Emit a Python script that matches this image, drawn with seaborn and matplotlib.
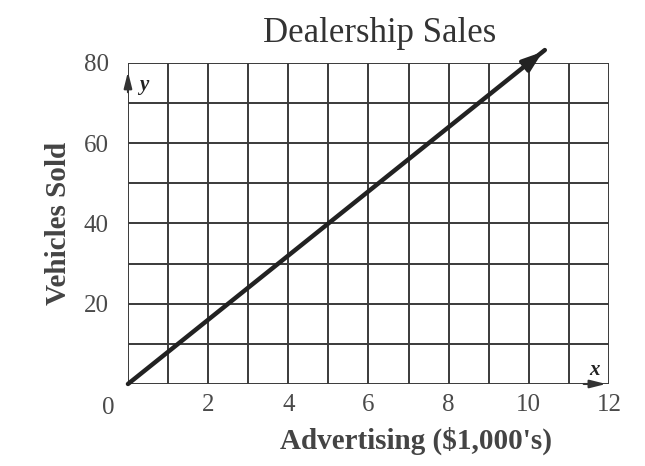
import matplotlib
matplotlib.use("Agg")
import matplotlib.pyplot as plt
import seaborn as sns
import pandas as pd

# line: starts at origin, arrow tip near (10.4, 83.2)
adv = [0, 10.4]
sold = [0, 83.2]
x_ticks = [2, 4, 6, 8, 10, 12]
y_ticks = [20, 40, 60, 80]

sns.set_theme(style="white")
plt.rcParams['font.family'] = ['Liberation Serif', 'DejaVu Serif']

df = pd.DataFrame({"adv": adv, "sold": sold})

fig = plt.figure(figsize=(6.45, 4.66), dpi=100)
ax = fig.add_axes([0.1984, 0.176, 0.7457, 0.689])

grid_col = "#3a3a3a"
for xv in range(0, 13):
    ax.axvline(xv, color=grid_col, lw=1.4, zorder=1)
for yv in range(0, 81, 10):
    ax.axhline(yv, color=grid_col, lw=1.4, zorder=1)

sns.lineplot(data=df, x="adv", y="sold", ax=ax, color="#222222", lw=3.2, zorder=3, clip_on=False)
# arrow head at the end of the line
ax.annotate("", xy=(adv[1], sold[1]), xytext=(adv[1] - 0.5, sold[1] - 4),
            arrowprops=dict(arrowstyle="-|>,head_length=1.0,head_width=0.35", color="#222222", lw=3),
            annotation_clip=False, zorder=4)

# axis arrows
ax.annotate("", xy=(12.0, 0), xytext=(11.3, 0),
            arrowprops=dict(arrowstyle="-|>,head_length=0.8,head_width=0.2", color="#333333", lw=1.5),
            annotation_clip=False, zorder=4)
ax.annotate("", xy=(0, 78.5), xytext=(0, 72),
            arrowprops=dict(arrowstyle="-|>,head_length=0.8,head_width=0.2", color="#333333", lw=1.5),
            annotation_clip=False, zorder=4)
ax.text(0.28, 74.5, "y", fontsize=15, fontweight="bold", style="italic", color="#222222", ha="left", va="center")
ax.text(11.65, 3.4, "x", fontsize=15, fontweight="bold", style="italic", color="#222222", ha="center", va="center")

ax.set_xlim(0, 12)
ax.set_ylim(0, 80)
ax.set_xticks(x_ticks)
ax.set_yticks(y_ticks)
ax.tick_params(axis="x", length=0, labelsize=18, labelcolor="#4a4a4a", pad=7)
ax.tick_params(axis="y", length=0, labelsize=18, labelcolor="#4a4a4a", pad=14)
ax.text(-0.5, -3.2, "0", fontsize=18, color="#4a4a4a", ha="center", va="top")
for s in ax.spines.values():
    s.set_visible(False)

ax.set_title("Dealership Sales", fontsize=25, color="#333333", pad=15, x=0.524)
ax.set_xlabel("Advertising ($1,000's)", fontsize=21, fontweight="bold", color="#444444", labelpad=8)
ax.xaxis.label.set_x(0.599)
ax.set_ylabel("Vehicles Sold", fontsize=21, fontweight="bold", color="#444444", labelpad=8)

fig.savefig("out.png", dpi=100, facecolor="white")
